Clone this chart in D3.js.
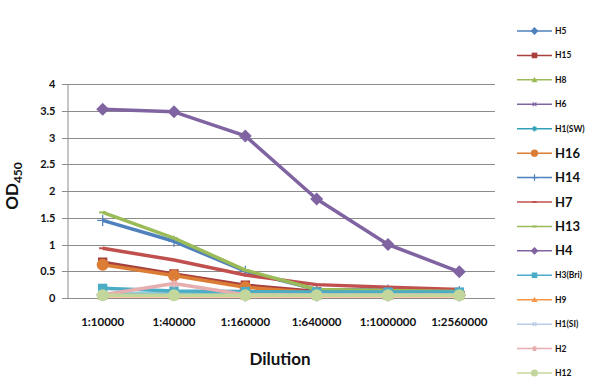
<!DOCTYPE html>
<html>
<head>
<meta charset="utf-8">
<script src="https://cdn.jsdelivr.net/npm/d3@7"></script>
<style>
  body { margin: 0; background: #fff; }
  svg { display: block; font-family: Lato, "DejaVu Sans", sans-serif; }
</style>
</head>
<body>
<div id="chartContainer"></div>
<script>
const dilutions = ['1:10000', '1:40000', '1:160000', '1:640000', '1:1000000', '1:2560000'];
const yTicks = [0, 0.5, 1, 1.5, 2, 2.5, 3, 3.5, 4];

// OD450, one array per subtype
const h5 = [0.06, 0.06, 0.05, 0.05, 0.05, 0.05];
const h15 = [0.67, 0.45, 0.24, 0.12, 0.10, 0.09];
const h8 = [0.06, 0.06, 0.05, 0.05, 0.05, 0.05];
const h6 = [0.05, 0.05, 0.05, 0.05, 0.05, 0.05];
const h1sw = [0.07, 0.07, 0.06, 0.06, 0.06, 0.06];
const h16 = [0.62, 0.42, 0.20, 0.10, 0.08, 0.07];
const h14 = [1.45, 1.06, 0.50, 0.16, 0.15, 0.12];
const h7 = [0.93, 0.71, 0.43, 0.25, 0.20, 0.16];
const h13 = [1.60, 1.12, 0.52, 0.16, 0.14, 0.12];
const h4 = [3.53, 3.48, 3.03, 1.85, 1.00, 0.49];
const h3bri = [0.18, 0.13, 0.12, 0.11, 0.11, 0.11];
const h9 = [0.04, 0.04, 0.04, 0.04, 0.04, 0.04];
const h1si = [0.05, 0.05, 0.05, 0.05, 0.05, 0.05];
const h2 = [0.06, 0.27, 0.06, 0.05, 0.05, 0.05];
const h12 = [0.05, 0.05, 0.05, 0.05, 0.05, 0.05];

const seriesNames = ['H5', 'H15', 'H8', 'H6', 'H1(SW)', 'H16', 'H14', 'H7', 'H13', 'H4', 'H3(Bri)', 'H9', 'H1(SI)', 'H2', 'H12'];
const seriesValues = [h5, h15, h8, h6, h1sw, h16, h14, h7, h13, h4, h3bri, h9, h1si, h2, h12];

// look of each series: colour, marker, legend text size
const styles = [
    { color: '#4f81bd', marker: 'diamond', size: 8 },
    { color: '#a8403d', marker: 'square', size: 8 },
    { color: '#9bbb59', marker: 'triangle', size: 8 },
    { color: '#8064a2', marker: 'x', size: 8 },
    { color: '#31a0b8', marker: 'star', size: 8 },
    { color: '#dc7d36', marker: 'circle', size: 12 },
    { color: '#4f81bd', marker: 'plus', size: 12 },
    { color: '#c0504d', marker: 'dash', size: 12 },
    { color: '#9bbb59', marker: 'dash', size: 12 },
    { color: '#8064a2', marker: 'diamond', size: 12 },
    { color: '#4bacc6', marker: 'square', size: 8 },
    { color: '#f79646', marker: 'triangle', size: 8 },
    { color: '#b9cbe6', marker: 'x', size: 8 },
    { color: '#e6aeae', marker: 'star', size: 8 },
    { color: '#c3d69b', marker: 'circle', size: 8 }
];

const series = seriesNames.map((name, i) => ({
    name: name,
    values: seriesValues[i],
    style: styles[i]
}));

const width = 591;
const height = 392;
const margin = { top: 84, right: 96, bottom: 94, left: 67 };

const svg = d3.select('#chartContainer')
    .append('svg')
    .attr('width', width)
    .attr('height', height);

const scaleX = d3.scaleBand()
    .domain(dilutions)
    .range([margin.left, width - margin.right]);

const scaleY = d3.scaleLinear()
    .domain([0, 4])
    .range([height - margin.bottom, margin.top]);

// gridlines
svg.append('g')
    .selectAll('line')
    .data(yTicks)
    .enter()
    .append('line')
    .attr('x1', margin.left - 5)
    .attr('x2', width - margin.right)
    .attr('y1', d => Math.round(scaleY(d)) + 0.5)
    .attr('y2', d => Math.round(scaleY(d)) + 0.5)
    .attr('stroke', '#8c8c8c')
    .attr('stroke-width', 1);

// Y axis
const yAxis = svg.append('g')
    .attr('transform', `translate(${margin.left + 0.5}, 0)`)
    .call(d3.axisLeft(scaleY).tickValues(yTicks).tickSize(0).tickPadding(12).tickFormat(d3.format('')));
yAxis.select('.domain').attr('stroke', '#8c8c8c');
yAxis.selectAll('text')
    .attr('font-family', 'Lato, sans-serif')
    .attr('font-weight', 'bold')
    .attr('font-size', 11)
    .attr('fill', '#111');

// X axis labels
const xAxis = svg.append('g')
    .attr('transform', `translate(0, ${height - margin.bottom})`)
    .call(d3.axisBottom(scaleX).tickSize(0).tickPadding(20));
xAxis.select('.domain').remove();
xAxis.selectAll('text')
    .attr('font-family', 'Lato, sans-serif')
    .attr('font-weight', 'bold')
    .attr('font-size', 11.5)
    .attr('fill', '#111');

// axis titles
svg.append('text')
    .attr('x', scaleX.range()[0] + (scaleX.range()[1] - scaleX.range()[0]) / 2 - 1)
    .attr('y', 365)
    .attr('text-anchor', 'middle')
    .attr('font-weight', 'bold')
    .attr('font-size', 17)
    .attr('fill', '#111')
    .text('Dilution');

const yTitle = svg.append('text')
    .attr('transform', 'translate(18, 186) rotate(-90)')
    .attr('text-anchor', 'middle')
    .attr('font-weight', 'bold')
    .attr('font-size', 17)
    .attr('fill', '#111');
yTitle.append('tspan').text('OD');
yTitle.append('tspan').attr('font-size', 12).attr('dy', 4).text('450');

function drawMarker(g, type, color, s) {
    const h = s / 2;
    if (type === 'diamond') {
        g.append('path').attr('d', `M0,${-h}L${h},0L0,${h}L${-h},0Z`).attr('fill', color);
    } else if (type === 'square') {
        g.append('rect').attr('x', -h * 0.85).attr('y', -h * 0.85).attr('width', s * 0.85).attr('height', s * 0.85).attr('fill', color);
    } else if (type === 'triangle') {
        g.append('path').attr('d', `M0,${-h}L${h},${h * 0.8}L${-h},${h * 0.8}Z`).attr('fill', color);
    } else if (type === 'circle') {
        g.append('circle').attr('r', h).attr('fill', color);
    } else if (type === 'x') {
        g.append('path').attr('d', `M${-h * 0.7},${-h * 0.7}L${h * 0.7},${h * 0.7}M${h * 0.7},${-h * 0.7}L${-h * 0.7},${h * 0.7}`)
            .attr('stroke', color).attr('stroke-width', 1.2);
    } else if (type === 'star') {
        g.append('path').attr('d', `M${-h * 0.7},${-h * 0.7}L${h * 0.7},${h * 0.7}M${h * 0.7},${-h * 0.7}L${-h * 0.7},${h * 0.7}M0,${-h}L0,${h}`)
            .attr('stroke', color).attr('stroke-width', 1.2);
    } else if (type === 'plus') {
        g.append('path').attr('d', `M0,${-h}L0,${h}M${-h},0L${h},0`)
            .attr('stroke', color).attr('stroke-width', 1.2);
    } else if (type === 'dash') {
        g.append('path').attr('d', `M${-h * 0.8},0L${h * 0.8},0`)
            .attr('stroke', color).attr('stroke-width', 2);
    }
}

const markerSize = { diamond: 13, square: 11, triangle: 10, circle: 12, x: 9, star: 9, plus: 11, dash: 9 };

const lineMaker = d3.line()
    .x((d, i) => scaleX(dilutions[i]) + scaleX.bandwidth() / 2)
    .y(d => scaleY(d));

const seriesGroup = svg.append('g')
    .selectAll('g')
    .data(series)
    .enter()
    .append('g');

seriesGroup.append('path')
    .attr('d', d => lineMaker(d.values))
    .attr('fill', 'none')
    .attr('stroke', d => d.style.color)
    .attr('stroke-width', 3.5)
    .attr('stroke-linejoin', 'round');

seriesGroup.each(function (d) {
    const g = d3.select(this);
    d.values.forEach((v, i) => {
        const m = g.append('g')
            .attr('transform', `translate(${scaleX(dilutions[i]) + scaleX.bandwidth() / 2}, ${scaleY(v)})`);
        drawMarker(m, d.style.marker, d.style.color, markerSize[d.style.marker]);
    });
});

// legend
const legendY = d3.scalePoint()
    .domain(seriesNames)
    .range([31, 373]);

const legend = svg.append('g')
    .selectAll('g')
    .data(series)
    .enter()
    .append('g')
    .attr('transform', d => `translate(517, ${legendY(d.name)})`);

legend.append('line')
    .attr('x1', 0)
    .attr('x2', 35)
    .attr('stroke', d => d.style.color)
    .attr('stroke-width', 1.5);

legend.each(function (d) {
    const m = d3.select(this).append('g').attr('transform', 'translate(17.5, 0)');
    drawMarker(m, d.style.marker, d.style.color, markerSize[d.style.marker] * 0.6);
});

legend.append('text')
    .attr('x', 38)
    .attr('dy', '0.35em')
    .attr('font-weight', 'bold')
    .attr('font-size', d => d.style.size === 12 ? 13 : 8.5)
    .attr('fill', '#111')
    .text(d => d.name);
</script>
</body>
</html>
